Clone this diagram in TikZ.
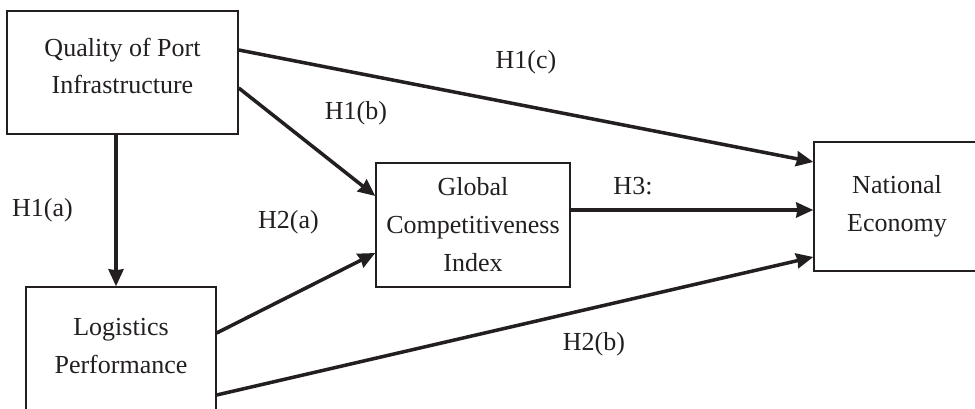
\documentclass[tikz,border=0pt]{standalone}
\usepackage{fontspec}
\setmainfont{Liberation Serif}
\usetikzlibrary{positioning,arrows.meta}
\definecolor{ink}{RGB}{35,31,32}

\begin{document}
\begin{tikzpicture} [scale=1,
        every node/.style={font=\fontsize{14.8}{21.6}\selectfont, text=ink},
        box/.style={draw=ink, line width=0.8pt, align=center},
        hyp/.style={->, color=ink, line width=2pt, >={Stealth[length=0.34cm,width=0.3cm,inset=0.02cm]}}]
        \useasboundingbox (0,0) rectangle (19.5,8.18);
        \node[box,minimum width=4.62cm,minimum height=2.46cm] at (2.45,6.73) (qpi) {};
        \node[align=center] at (2.45,6.86) (qpitext) {Quality of Port\\Infrastructure};
        \node[box,minimum width=3.8cm,minimum height=2.5cm] at (2.42,1.19) (lp) {};
        \node[align=center] at (2.42,1.26) (lptext) {Logistics\\Performance};
        \node[box,minimum width=3.88cm,minimum height=2.48cm] at (9.46,3.68) (gci) {Global\\Competitiveness\\Index};
        \node[box,minimum width=3.32cm,minimum height=2.58cm] at (17.94,4.05) (ne) {National\\Economy};
        \path[hyp]
        ([yshift=0.45cm]qpi.east) edge node[midway,yshift=0.88cm] {H1(c)} ([yshift=0.89cm]ne.west)
        ([yshift=-0.31cm]qpi.east) edge node[midway,xshift=0.98cm,yshift=0.58cm] {H1(b)} ([yshift=0.58cm]gci.west)
        ([xshift=-0.13cm]qpi.south) edge node[midway,xshift=-1.47cm] {H1(a)} ([xshift=-0.1cm]lp.north)
        ([yshift=0.33cm]lp.east) edge node[midway,xshift=-0.15cm,yshift=1.42cm] {H2(a)} ([yshift=-0.56cm]gci.west)
        ([yshift=-0.91cm]lp.east) edge node[midway,xshift=1.58cm,yshift=-0.36cm] {H2(b)} ([yshift=-1.01cm]ne.west)
        ([yshift=0.3cm]gci.east) edge node[midway,xshift=-1.18cm,yshift=0.47cm] {H3:} ([yshift=-0.07cm]ne.west)
        ;
    \end{tikzpicture}
\end{document}
